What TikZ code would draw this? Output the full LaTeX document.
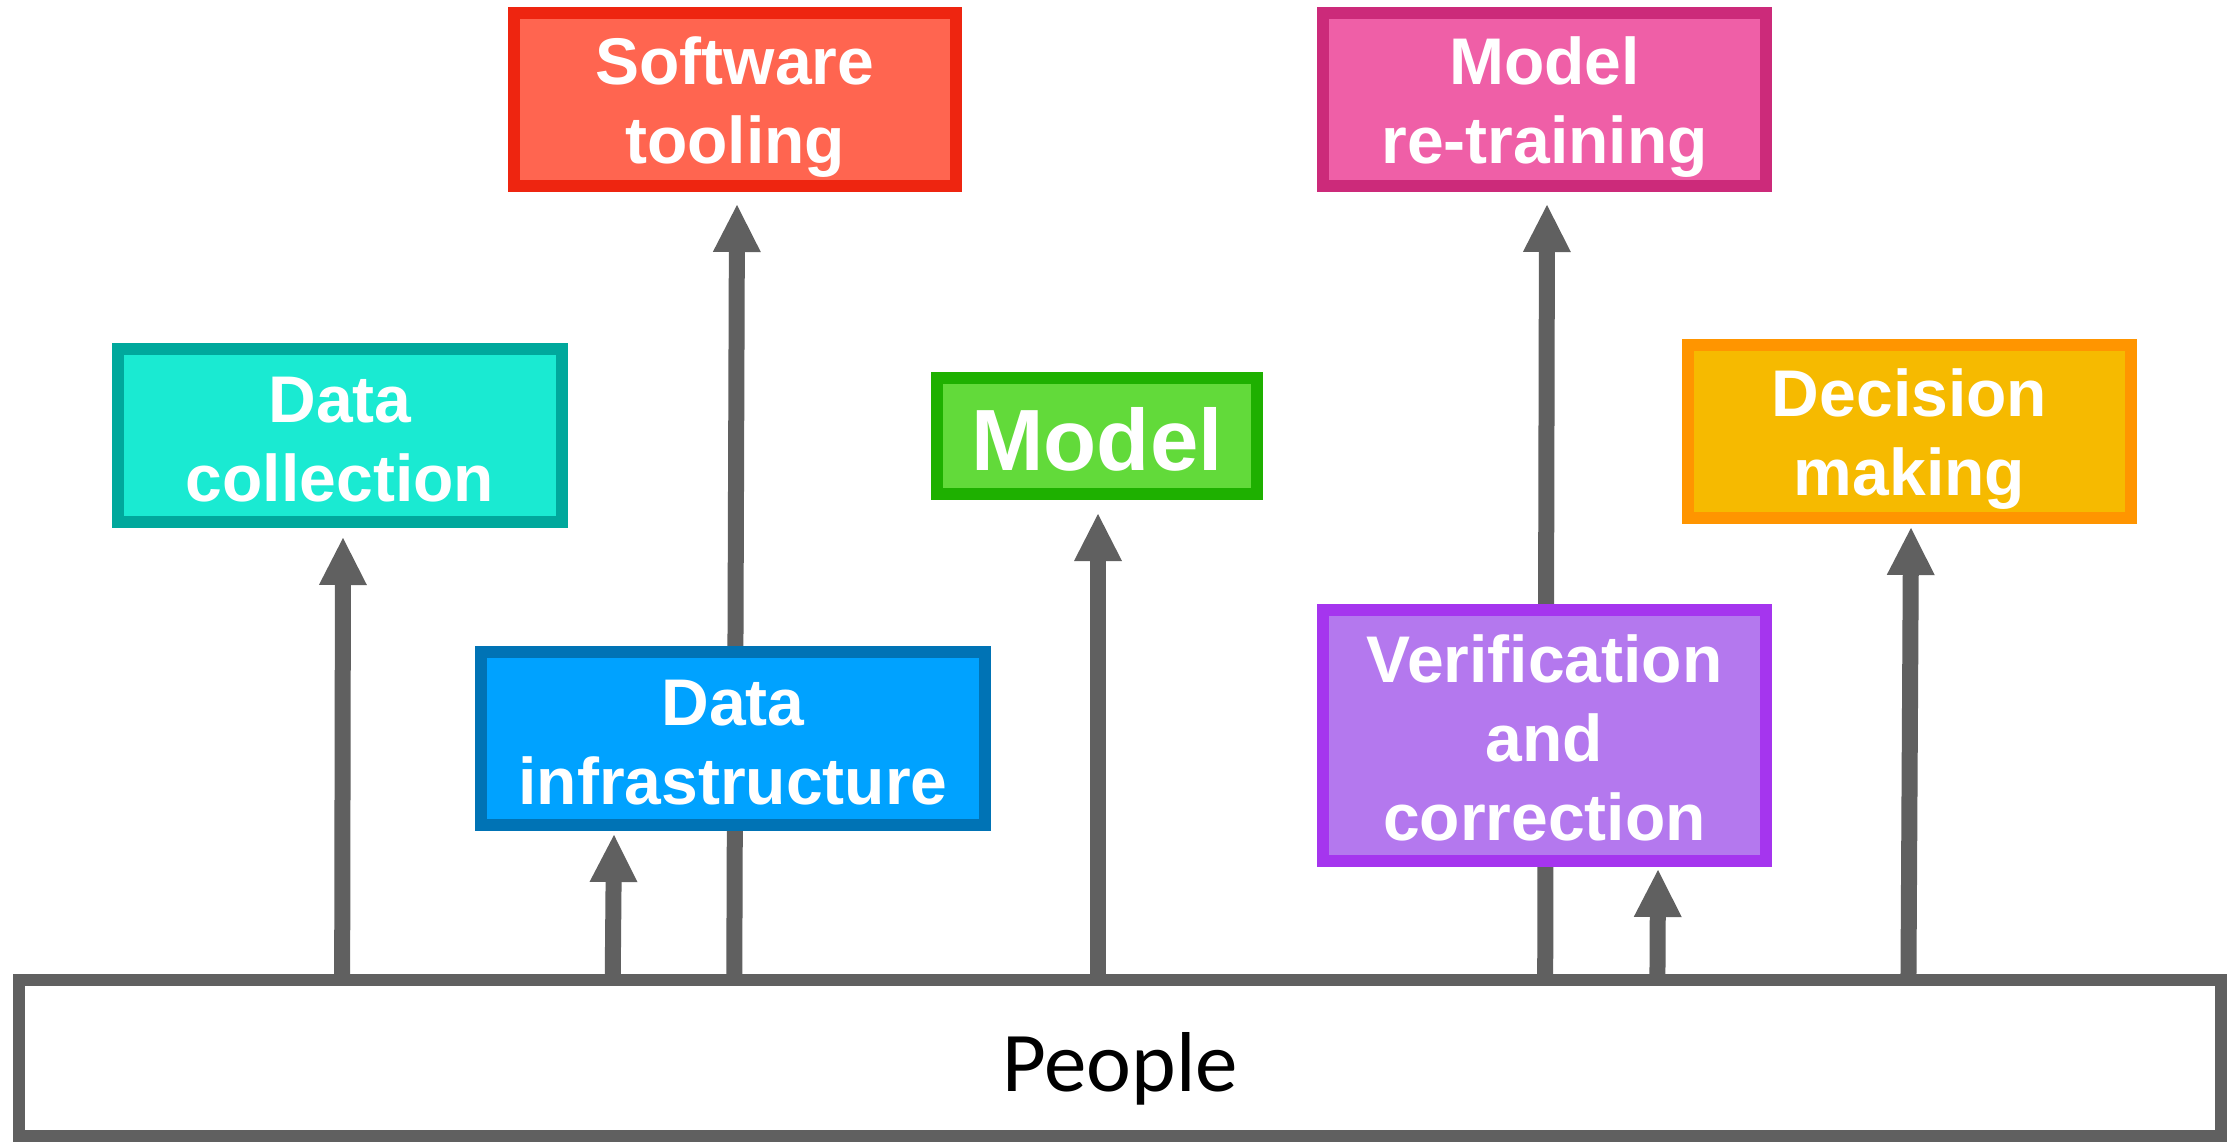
\documentclass[tikz,border=0pt]{standalone}
\usepackage{fontspec}
\setmainfont{Liberation Sans}
\newfontfamily\peoplefont{Carlito}
\usetikzlibrary{arrows.meta}
\pgfdeclarelayer{background}
\pgfsetlayers{background,main}
\definecolor{softfill}{HTML}{FF6550}
\definecolor{softline}{HTML}{EE2510}
\definecolor{retrfill}{HTML}{EF5FA7}
\definecolor{retrline}{HTML}{CC2A7A}
\definecolor{collfill}{HTML}{1AEAD2}
\definecolor{collline}{HTML}{00A89C}
\definecolor{modfill}{HTML}{62DA3A}
\definecolor{modline}{HTML}{1EB000}
\definecolor{decfill}{HTML}{F6BA00}
\definecolor{decline}{HTML}{FF9500}
\definecolor{infrafill}{HTML}{00A2FF}
\definecolor{infraline}{HTML}{0073B5}
\definecolor{verfill}{HTML}{B478EE}
\definecolor{verline}{HTML}{A535EE}
\definecolor{arrgray}{HTML}{606060}
\newcommand\st{\rule[-0.16em]{0pt}{1.11em}}
\tikzset{
  box/.style={draw, line width=12pt, inner sep=0pt, text=white, align=center,
    font=\fontsize{66}{79}\selectfont\bfseries},
  arr/.style={draw=arrgray, line width=16pt,
    -{Triangle[width=48pt,length=47pt,line width=0pt]}},
}
\begin{document}
\begin{tikzpicture}[x=1pt,y=-1pt]
\useasboundingbox (0,0) rectangle (2239,1143);
\node[box, fill=softfill, draw=softline, minimum width=442pt, minimum height=173pt]
  (soft) at (735,99.5) {\st Software\\\st tooling};
\node[box, fill=retrfill, draw=retrline, minimum width=443pt, minimum height=173pt]
  (retrain) at (1544.5,99.5) {\st Model\\\st re-training};
\node[box, fill=collfill, draw=collline, minimum width=444pt, minimum height=173pt]
  (dcoll) at (340,435.5) {\st Data\\\st collection};
\node[box, fill=modfill, draw=modline, minimum width=320pt, minimum height=116pt,
  font=\fontsize{87}{104}\selectfont\bfseries]
  (model) at (1097,436) {\st Model};
\node[box, fill=decfill, draw=decline, minimum width=443pt, minimum height=173pt]
  (decision) at (1909.5,431.5) {\st Decision\\\st making};
\node[box, fill=infrafill, draw=infraline, minimum width=504pt, minimum height=173pt]
  (dinfra) at (733,738.5) {\st Data\\\st infrastructure};
\node[box, fill=verfill, draw=verline, minimum width=443pt, minimum height=251pt]
  (verif) at (1544.5,735.5) {\st Verification\\\st and\\\st correction};
\node[draw=arrgray, fill=white, line width=12pt, inner sep=0pt,
  minimum width=2202pt, minimum height=156pt, text=black,
  font=\fontsize{85}{100}\selectfont\peoplefont]
  (people) at (1120,1058) {\st People};
\coordinate (b1) at (342,0);
\coordinate (b2) at (612,0);
\coordinate (b3) at (734,0);
\coordinate (b4) at (1098,0);
\coordinate (b5) at (1545,0);
\coordinate (b6) at (1657,0);
\coordinate (b7) at (1908,0);
\begin{pgfonlayer}{background}
\draw[arr] (b1 |- people.center) -- ([xshift=3pt,yshift=-10pt]dcoll.south);
\draw[arr] (b2 |- people.center) -- ([xshift=-119pt,yshift=-4pt]dinfra.south);
\draw[arr] (b3 |- people.center) -- ([xshift=2pt,yshift=-13pt]soft.south);
\draw[arr] (b4 |- people.center) -- ([xshift=1pt,yshift=-14pt]model.south);
\draw[arr] (b5 |- people.center) -- ([xshift=2.5pt,yshift=-13pt]retrain.south);
\draw[arr] (b6 |- people.center) -- ([xshift=113.5pt,yshift=-3pt]verif.south);
\draw[arr] (b7 |- people.center) -- ([xshift=1.5pt,yshift=-4pt]decision.south);
\end{pgfonlayer}
\end{tikzpicture}
\end{document}
